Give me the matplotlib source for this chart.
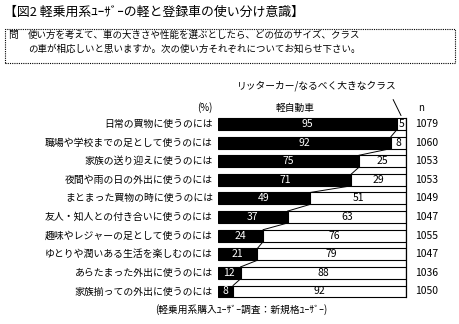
import matplotlib
matplotlib.use("Agg")
import matplotlib.pyplot as plt
from matplotlib.patches import Rectangle

plt.rcParams['font.family'] = ['Noto Sans CJK JP', 'DejaVu Sans']

# データ
uses = ['日常の買物に使うのには', '職場や学校までの足として使うのには', '家族の送り迎えに使うのには',
        '夜間や雨の日の外出に使うのには', 'まとまった買物の時に使うのには', '友人・知人との付き合いに使うのには',
        '趣味やレジャーの足として使うのには', 'ゆとりや潤いある生活を楽しむのには',
        'あらたまった外出に使うのには', '家族揃っての外出に使うのには']
kei = [95, 92, 75, 71, 49, 37, 24, 21, 12, 8]
large = [5, 8, 25, 29, 51, 63, 76, 79, 88, 92]
n_resp = [1079, 1060, 1053, 1053, 1049, 1047, 1055, 1047, 1036, 1050]

W, H = 459, 324


def px(x, y):
    # ピクセル座標 -> figure座標
    return x / W, 1 - y / H


fig = plt.figure(figsize=(W / 100, H / 100), dpi=100)

# タイトルと設問
fig.text(*px(4, 12), '【図2 軽乗用系ﾕｰｻﾞｰの軽と登録車の使い分け意識】', fontsize=9.3, va='center', ha='left')
box = Rectangle(px(5, 63), (455 - 5) / W, (63 - 29) / H, transform=fig.transFigure,
                fill=False, linestyle=(0, (1, 1)), lw=0.8, edgecolor='black')
fig.add_artist(box)
fig.text(*px(8, 35), '問', fontsize=7, va='center', ha='left')
fig.text(*px(28, 35), '使い方を考えて、車の大きさや性能を選ぶとしたら、どの位のサイズ、クラス',
         fontsize=6.8, va='center', ha='left')
fig.text(*px(28, 49), 'の車が相応しいと思いますか。次の使い方それぞれについてお知らせ下さい。',
         fontsize=6.8, va='center', ha='left')

# 棒グラフ部分
top, bottom = 114.7, 300.8
ax = fig.add_axes([218 / W, 1 - bottom / H, (406 - 218) / W, (bottom - top) / H])
h = 0.64
rows = list(range(len(uses)))
ax.barh(rows, kei, height=h, color='black', edgecolor='black', lw=0.8)
ax.barh(rows, large, left=kei, height=h, color='white', edgecolor='black', lw=0.8)
ax.set_xlim(0, 100)
ax.set_ylim(len(uses) - 0.5, -0.5)
ax.axis('off')

# 右端の縦線
ax.plot([100, 100], [-h / 2, len(uses) - 1 + h / 2], color='black', lw=0.9, clip_on=False)

for i in rows:
    ax.text(-2.7, i, uses[i], ha='right', va='center', fontsize=7.1)
    ax.text(kei[i] / 2, i, str(kei[i]), ha='center', va='center', fontsize=7.5, color='white')
    ax.text(kei[i] + large[i] / 2, i, str(large[i]), ha='center', va='center', fontsize=7.5, color='black')
    ax.text(104.8, i, str(n_resp[i]), ha='left', va='center', fontsize=7.5)
    # 軽の境目をつなぐ線
    if i < len(uses) - 1:
        ax.plot([kei[i], kei[i + 1]], [i + h / 2, i + 1 - h / 2], color='black', lw=0.7, clip_on=False)

# 引き出し線
ax.annotate('', xy=(kei[0] + large[0] * 0.6, -h / 2), xytext=(92.5, -1.45),
            arrowprops=dict(arrowstyle='-', lw=0.7, color='black'), annotation_clip=False)

fig.text(*px(317, 86), 'リッターカー/なるべく大きなクラス', fontsize=7, ha='center', va='center')
fig.text(*px(212, 108), '(%)', fontsize=7, ha='right', va='center')
fig.text(*px(295, 108), '軽自動車', fontsize=7, ha='center', va='center')
fig.text(*px(418, 108), 'n', fontsize=7, ha='left', va='center')
fig.text(*px(241, 310), '(軽乗用系購入ﾕｰｻﾞｰ調査：新規格ﾕｰｻﾞｰ)', fontsize=7, ha='center', va='center')

fig.savefig('out.png', dpi=100)
